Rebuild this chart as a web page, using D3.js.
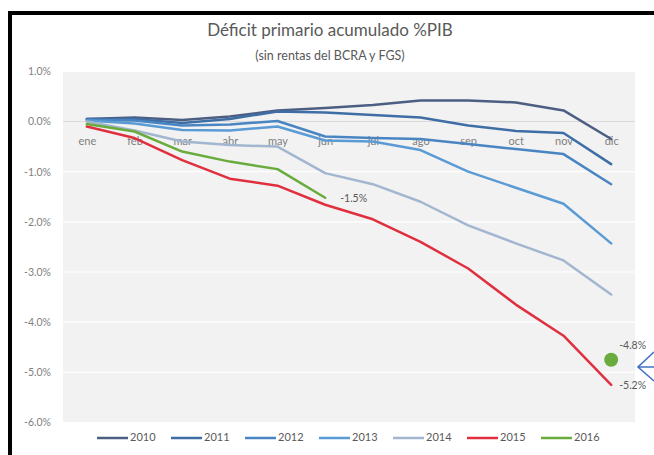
<!DOCTYPE html>
<html>
<head>
<meta charset="utf-8">
<script src="https://cdn.jsdelivr.net/npm/d3@7"></script>
<style>
  html, body { margin: 0; padding: 0; background: #fff; }
  svg { display: block; }
  text { font-family: Lato, "Open Sans", sans-serif; }
</style>
</head>
<body>
<svg id="chart" width="654" height="455"></svg>
<script>
// ---- Data ----
const months = ["ene","feb","mar","abr","may","jun","jul","ago","sep","oct","nov","dic"];
const years = ["2010","2011","2012","2013","2014","2015","2016"];
const v2010 = [0.05, 0.08, 0.03, 0.10, 0.22, 0.27, 0.33, 0.42, 0.42, 0.38, 0.22, -0.35];
const v2011 = [0.05, 0.05, -0.03, 0.05, 0.20, 0.18, 0.13, 0.08, -0.08, -0.19, -0.23, -0.85];
const v2012 = [0.03, 0.02, -0.08, -0.06, 0.01, -0.30, -0.33, -0.35, -0.45, -0.55, -0.65, -1.25];
const v2013 = [0.02, -0.04, -0.17, -0.18, -0.10, -0.38, -0.40, -0.57, -1.00, -1.32, -1.64, -2.43];
const v2014 = [0.00, -0.18, -0.40, -0.47, -0.50, -1.03, -1.25, -1.60, -2.07, -2.43, -2.77, -3.45];
const v2015 = [-0.10, -0.33, -0.77, -1.14, -1.28, -1.66, -1.95, -2.40, -2.93, -3.65, -4.27, -5.25];
const v2016 = [-0.05, -0.20, -0.60, -0.80, -0.95, -1.52];
const seriesValues = [v2010, v2011, v2012, v2013, v2014, v2015, v2016];
const colors = ["#4c5e82", "#3f6ea6", "#4a85c3", "#5b9bd5", "#a3b6d0", "#e0303f", "#6aab3e"];
const yTicks = [1, 0, -1, -2, -3, -4, -5, -6];
const estimate2016 = -4.75;
const labelJun2016 = "-1.5%";
const labelEst2016 = "-4.8%";
const labelDic2015 = "-5.2%";
const titleText = "Déficit primario acumulado %PIB";
const subtitleText = "(sin rentas del BCRA y FGS)";

// ---- Layout ----
const svg = d3.select("#chart");
const plot = {left: 63, right: 635, top: 71.3, bottom: 422.5};

const x = d3.scalePoint().domain(months).range([plot.left, plot.right]).padding(0.5);
const y = d3.scaleLinear().domain([-6, 1]).range([plot.bottom, plot.top]);

// plot background
svg.append("rect")
  .attr("x", plot.left).attr("y", plot.top)
  .attr("width", plot.right - plot.left).attr("height", plot.bottom - plot.top)
  .attr("fill", "#f2f2f2");

// gridlines
svg.append("g").selectAll("line").data(yTicks.filter(d => d !== 0)).join("line")
  .attr("x1", plot.left).attr("x2", plot.right)
  .attr("y1", d => y(d)).attr("y2", d => y(d))
  .attr("stroke", "#ffffff").attr("stroke-width", 1.2);

// zero axis line
svg.append("line")
  .attr("x1", plot.left).attr("x2", plot.right)
  .attr("y1", y(0)).attr("y2", y(0))
  .attr("stroke", "#d9d9d9").attr("stroke-width", 1);

// y axis labels
const yAxis = d3.axisLeft(y).tickValues(yTicks).tickSize(0).tickPadding(0)
  .tickFormat(d => d.toFixed(1) + "%");
const yg = svg.append("g").attr("transform", "translate(51,0)").call(yAxis);
yg.select(".domain").remove();
yg.selectAll("text").attr("fill", "#7f7f7f").attr("font-size", 10.5)
  .attr("font-family", "Lato, 'Open Sans', sans-serif");

// x axis labels (at zero line)
const xAxis = d3.axisBottom(x).tickSize(0).tickPadding(0);
const xg = svg.append("g").attr("transform", `translate(0,${y(0) + 24})`).call(xAxis);
xg.select(".domain").remove();
xg.selectAll("text").attr("fill", "#7f7f7f").attr("font-size", 11).attr("dy", "0")
  .attr("font-family", "Lato, 'Open Sans', sans-serif");

// lines
const line = d3.line().x((d, i) => x(months[i])).y(d => y(d));
svg.append("g").selectAll("path").data(seriesValues).join("path")
  .attr("d", d => line(d))
  .attr("fill", "none")
  .attr("stroke", (d, i) => colors[i])
  .attr("stroke-width", 2.5)
  .attr("stroke-linejoin", "round")
  .attr("stroke-linecap", "round");

// 2016 estimate point
svg.append("circle")
  .attr("cx", x("dic")).attr("cy", y(estimate2016)).attr("r", 7)
  .attr("fill", colors[6]);

// data labels
const lab = (tx, xx, yy) => svg.append("text").text(tx)
  .attr("x", xx).attr("y", yy).attr("fill", "#595959").attr("font-size", 10.5)
  .attr("dominant-baseline", "middle");
lab(labelJun2016, x("jun") + 15, y(v2016[5]) + 2);
lab(labelEst2016, x("dic") + 8, y(estimate2016) - 13);
lab(labelDic2015, x("dic") + 8, y(v2015[11]) + 1);

// arrow
svg.append("path")
  .attr("d", "M654,352 L638,367 L654,381 M638,367 L654,367")
  .attr("fill", "none").attr("stroke", "#4472c4").attr("stroke-width", 1.6);

// title
svg.append("text").text(titleText)
  .attr("x", 330).attr("y", 32).attr("text-anchor", "middle")
  .attr("dominant-baseline", "middle")
  .attr("fill", "#595959").attr("font-size", 17);
svg.append("text").text(subtitleText)
  .attr("x", 330).attr("y", 57).attr("text-anchor", "middle")
  .attr("dominant-baseline", "middle")
  .attr("fill", "#595959").attr("font-size", 12.5);

// legend
const legX0 = 97, legStep = 74;
const leg = svg.append("g").selectAll("g").data(years).join("g")
  .attr("transform", (d, i) => `translate(${legX0 + i * legStep},438)`);
leg.append("line").attr("x1", 0).attr("x2", 31).attr("y1", 0).attr("y2", 0)
  .attr("stroke", (d, i) => colors[i]).attr("stroke-width", 2.5);
leg.append("text").text(d => d).attr("x", 33).attr("y", 0)
  .attr("dominant-baseline", "middle")
  .attr("fill", "#595959").attr("font-size", 11);

// black frame
svg.append("path")
  .attr("d", "M10,455 L10,13 L654,13")
  .attr("fill", "none").attr("stroke", "#000").attr("stroke-width", 4);
</script>
</body>
</html>
